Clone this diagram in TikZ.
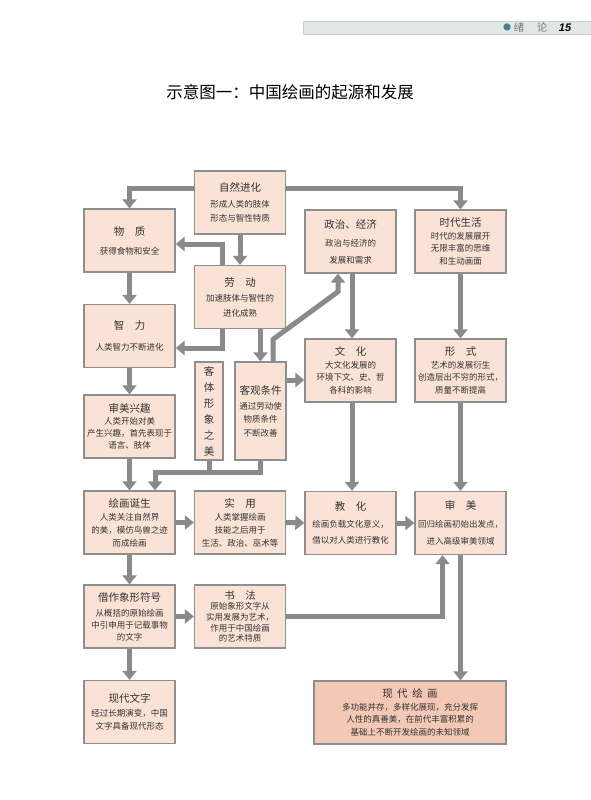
\documentclass[tikz,border=0pt]{standalone}
\usepackage{fontspec}
\newfontfamily\cjk{Noto Sans CJK SC}
\newfontfamily\hdrfont{Liberation Sans}
\usetikzlibrary{arrows.meta,calc}
\definecolor{boxfill}{HTML}{FBE2D6}
\definecolor{boxfilldark}{HTML}{F3C8B5}
\definecolor{boxline}{HTML}{8E8E8E}
\definecolor{arrowgray}{HTML}{8A8A8A}
\definecolor{barfill}{HTML}{DFE8E7}
\definecolor{barline}{HTML}{C5D2D1}
\definecolor{dotblue}{HTML}{4F7D99}
\definecolor{txt}{HTML}{333333}
\definecolor{hdrtxt}{HTML}{777777}
\newcommand\ttl[1]{{\fontsize{10.5}{14}\selectfont #1}}
\tikzset{
  box/.style={draw=boxline, fill=boxfill, line width=1.3pt, minimum width=91pt,
    minimum height=63pt, inner sep=1pt, align=center, text=txt,
    font=\cjk\fontsize{8.5}{14}\selectfont},
  bs/.style={font=\cjk\fontsize{8.5}{#1}\selectfont},
  conn/.style={draw=arrowgray, line width=5pt, line join=miter},
  arr/.style={conn, -{Triangle[width=14pt,length=9pt]}},
}
\begin{document}
\begin{tikzpicture}[x=1pt,y=-1pt]
\useasboundingbox (0,0) rectangle (590,800);
\fill[white] (0,0) rectangle (590,800);
% header
\fill[barfill, draw=barline, line width=0.5pt] (303,21) rectangle (592,34);
\node[text=dotblue, font=\cjk\fontsize{8}{10}\selectfont] (hdot) at (507,27.5) {●};
\node[text=hdrtxt, font=\cjk\fontsize{10.5}{12}\selectfont] (hxu) at (519,27.5) {绪};
\node[text=hdrtxt, font=\cjk\fontsize{10.5}{12}\selectfont] (hlun) at (542,27.5) {论};
\node[text=black, font=\hdrfont\bfseries\itshape\fontsize{11}{12}\selectfont] (hnum) at (565,27.5) {15};
% title
\node[text=black, font=\cjk\fontsize{16.5}{20}\selectfont] (title) at (290,92) {示意图一：中国绘画的起源和发展};

% boxes
\node[box] (ziran) at (240,202.5) {\ttl{自然进化}\\[2pt]形成人类的肢体\\形态与智性特质};
\node[box] (wuzhi) at (129.5,240.5) {\ttl{物　质}\\[5pt]获得食物和安全};
\node[box] (laodong) at (240,297) {\ttl{劳　动}\\[1pt]加速肢体与智性的\\[1pt]进化成熟};
\node[box] (zhili) at (129.5,336) {\ttl{智　力}\\[7pt]人类智力不断进化};
\node[box] (zhengzhi) at (350.5,241.5) {\ttl{政治、经济}\\[4pt]政治与经济的\\[3pt]发展和需求};
\node[box, bs=12.5] (shidai) at (460.5,241.5) {\ttl{时代生活}\\时代的发展展开\\无限丰富的思维\\和生动画面};
\node[box, minimum width=28pt, minimum height=98pt, font=\cjk\fontsize{10.5}{16}\selectfont] (keti) at (209,411) {客\\体\\形\\象\\之\\美};
\node[box, bs=13.5, minimum width=51pt, minimum height=98pt] (keguan) at (260.5,411) {\ttl{客观条件}\\[1.5pt]通过劳动使\\物质条件\\不断改善};
\node[box, bs=12.7] (wenhua) at (350.5,370.5) {\ttl{文　化}\\大文化发展的\\环境下文、史、哲\\各科的影响};
\node[box, bs=12.7] (xingshi) at (460.5,370.5) {\ttl{形　式}\\艺术的发展衍生\\创造层出不穷的形式，\\质量不断提高};
\node[box, bs=12] (shenmeixq) at (129.5,426.5) {\ttl{审美兴趣}\\人类开始对美\\产生兴趣，首先表现于\\语言、肢体};
\node[box, bs=13] (huihua) at (129.5,522.5) {\ttl{绘画诞生}\\人类关注自然界\\的美，模仿鸟兽之迹\\而成绘画};
\node[box, bs=13] (shiyong) at (240,522.5) {\ttl{实　用}\\人类掌握绘画\\技能之后用于\\生活、政治、巫术等};
\node[box] (jiaohua) at (350.5,523) {\ttl{教　化}\\[2.5pt]绘画负载文化意义，\\[2.5pt]借以对人类进行教化};
\node[box] (shenmei) at (460.5,523) {\ttl{审　美}\\[3.5pt]回归绘画初始出发点，\\[3pt]进入高级审美领域};
\node[box, bs=12] (jiezuo) at (129.5,616.5) {\ttl{借作象形符号}\\[3pt]从概括的原始绘画\\中引申用于记载事物\\的文字};
\node[box, bs=10.6] (shufa) at (240,616.5) {\ttl{书　法}\\原始象形文字从\\实用发展为艺术，\\作用于中国绘画\\的艺术特质};
\node[box, bs=13.5] (xiandaiwz) at (129.5,712) {\ttl{现代文字}\\经过长期演变，中国\\文字具备现代形态};
\node[box, bs=12.7, fill=boxfilldark, minimum width=192pt] (xiandaihh) at (410,712.5) {\ttl{现\hspace{4.5pt}代\hspace{4.5pt}绘\hspace{4.5pt}画}\\多功能并存，多样化展现，充分发挥\\人性的真善美，在前代丰富积累的\\基础上不断开发绘画的未知领域};

% connectors
\draw[arr] ($(ziran.west)+(0,-14.5)$) -| (wuzhi.north);
\draw[arr] ($(ziran.east)+(0,-14.5)$) -| (shidai.north);
\draw[arr] (ziran.south) -- (laodong.north);
\draw[arr] ($(laodong.north)+(-18,0)$) |- ($(wuzhi.east)+(0,3.5)$);
\draw[arr] (wuzhi.south) -- (zhili.north);
\draw[arr] ($(laodong.south)+(-18,0)$) |- ($(zhili.east)+(0,12)$);
\draw[arr] ($(laodong.south)+(20.5,0)$) -- (keguan.north);
\draw[arr] ($(keguan.north)+(12.5,0)$) -- ++(0,-22) -- ($(zhengzhi.south)+(-12.5,18)$) -- ($(zhengzhi.south)+(-12.5,0)$);
\draw[arr] ($(zhengzhi.south)+(1.5,0)$) -- ($(wenhua.north)+(1.5,0)$);
\draw[arr] ($(keguan.east)+(0,-31)$) -- ($(wenhua.west)+(0,9.5)$);
\draw[arr] (shidai.south) -- (xingshi.north);
\draw[arr] (zhili.south) -- (shenmeixq.north);
\draw[arr] (shenmeixq.south) -- (huihua.north);
\coordinate (jn) at ($(huihua.north)+(25.5,-18)$);
\draw[arr] (keguan.south) |- (jn) -- (jn |- huihua.north);
\draw[conn] (keti.south) -- (keti.south |- jn);
\draw[arr] ($(wenhua.south)+(1.5,0)$) -- ($(jiaohua.north)+(1.5,0)$);
\draw[arr] (xingshi.south) -- (shenmei.north);
\draw[arr] (huihua.east) -- (shiyong.west);
\draw[arr] (shiyong.east) -- (jiaohua.west);
\draw[arr] (jiaohua.east) -- (shenmei.west);
\draw[arr] (huihua.south) -- (jiezuo.north);
\draw[arr] (jiezuo.east) -- (shufa.west);
\draw[arr] (shufa.east) -| ($(shenmei.south)+(-18,0)$);
\draw[arr] (shenmei.south) -- (shenmei.south |- xiandaihh.north);
\draw[arr] (jiezuo.south) -- (xiandaiwz.north);
\end{tikzpicture}
\end{document}
